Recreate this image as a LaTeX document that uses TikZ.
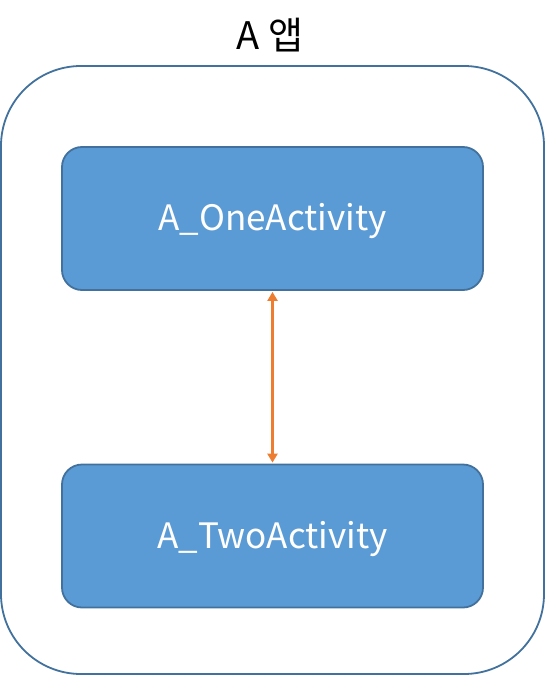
\documentclass[tikz,border=0pt]{standalone}
\usepackage{fontspec}
\setmainfont{Noto Sans CJK KR}
\usetikzlibrary{arrows.meta}
\definecolor{boxfill}{HTML}{5B9BD5}
\definecolor{boxline}{HTML}{41719C}
\definecolor{arr}{HTML}{ED7D31}
\begin{document}
\begin{tikzpicture}[x=1pt,y=-1pt,
  actbox/.style={draw=boxline, fill=boxfill, line width=1.8pt, rounded corners=20pt,
    minimum width=421pt, minimum height=143pt, inner sep=0pt},
  boxtext/.style={text=white, font=\fontsize{35}{40}\selectfont, inner sep=0pt},
  outerbox/.style={draw=boxline, line width=1.8pt, rounded corners=80pt,
    minimum width=543pt, minimum height=608pt, inner sep=0pt}]
\useasboundingbox (0,0) rectangle (545,676);
\node[outerbox] (app) at (272.5,370) {};
\node[font=\fontsize{38}{42}\selectfont, anchor=base] (title) at (270,50) {A 앱};
\node[actbox] (one) at (272.5,218.5) {};
\node[actbox] (two) at (272.5,536) {};
\node[boxtext] (onet) at ([yshift=-3pt]one.center) {A\_OneActivity};
\node[boxtext] (twot) at ([yshift=-3pt]two.center) {A\_TwoActivity};
\draw[arr, line width=3.6pt, {Triangle[length=9pt,width=10pt]}-{Triangle[length=9pt,width=10pt]}, shorten <=1pt, shorten >=1pt] (one.south) -- (two.north);
\end{tikzpicture}
\end{document}
